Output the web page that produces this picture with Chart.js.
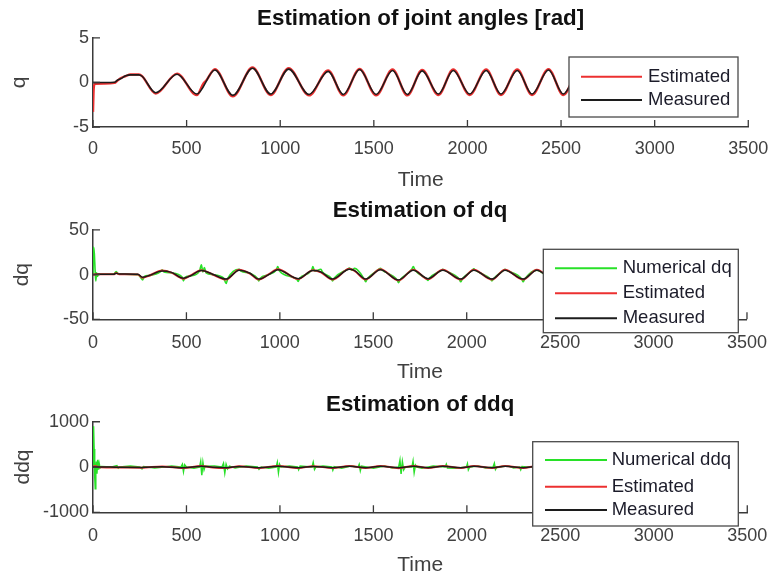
<!DOCTYPE html>
<html><head><meta charset="utf-8">
<script src="https://cdn.jsdelivr.net/npm/chart.js@4.4.1/dist/chart.umd.min.js"></script>
<style>
html,body{margin:0;padding:0;background:#fff;}
#wrap{position:relative;width:780px;height:581px;overflow:hidden;background:#fff;}
.pane{position:absolute;left:0;width:780px;}
</style></head><body>
<div id="wrap">
<div class="pane" style="top:0px;height:195px"><canvas id="c1" width="780" height="195"></canvas></div>
<div class="pane" style="top:195px;height:195px"><canvas id="c2" width="780" height="195"></canvas></div>
<div class="pane" style="top:390px;height:191px"><canvas id="c3" width="780" height="191"></canvas></div>
</div>
<script>
// ---------- data: [time, value] pairs ----------
const xTicks = [0, 500, 1000, 1500, 2000, 2500, 3000, 3500];

const qMeasured = [[0,0],[60,0],[115,0.02],[130,0.25],[150,0.45],[175,0.75],[200,0.85],[245,0.85],[262,0.7],[335,-1.15],[449,0.92],[554,-1.3],[651,1.4],[747,-1.45],[852,1.6],[949,-1.3],[1045,1.5],[1154,-1.35],[1256,1.25],[1337,-1.35],[1424,1.45],[1512,-1.35],[1600,1.35],[1679,-1.35],[1758,1.3],[1845,-1.3],[1924,1.35],[2012,-1.3],[2100,1.35],[2179,-1.3],[2266,1.35],[2345,-1.3],[2433,1.4],[2512,-1.3],[2598,1.35],[2680,-1.3],[2765,1.35],[2848,-1.3],[2932,1.35],[3015,-1.3],[3098,1.35],[3180,-1.3],[3262,1.35],[3345,-1.0],[3430,-1.0]];
const qEstimated = [[0,-3.3],[4,-0.6],[10,-0.15],[60,-0.12],[115,-0.05],[130,0.2],[150,0.5],[175,0.72],[200,0.9],[245,0.9],[262,0.72],[335,-1.25],[449,1.0],[554,-1.42],[590,-0.1],[606,0.25],[651,1.5],[747,-1.55],[852,1.68],[949,-1.4],[1045,1.6],[1154,-1.45],[1256,1.35],[1337,-1.45],[1424,1.52],[1512,-1.45],[1600,1.45],[1679,-1.45],[1758,1.4],[1845,-1.4],[1924,1.45],[2012,-1.4],[2100,1.45],[2179,-1.4],[2266,1.45],[2345,-1.4],[2433,1.5],[2512,-1.4],[2598,1.45],[2680,-1.4],[2765,1.45],[2848,-1.4],[2932,1.45],[3015,-1.4],[3098,1.45],[3180,-1.4],[3262,1.45],[3345,-1.05],[3430,-1.0]];

const dqMeasured = [[0,0],[20,0.5],[110,0.5],[124,1.5],[140,0.8],[240,0.5],[265,-3],[300,-1],[370,4],[420,2.5],[484,-4],[520,-1.5],[580,4.5],[640,0.5],[712,-5],[782,5],[840,1.5],[887,-5],[940,0],[989,5.5],[1098,-4.5],[1177,4.5],[1220,3],[1282,-5],[1372,6],[1400,4.5],[1459,-5],[1538,5.5],[1635,-6],[1714,5],[1793,-4.5],[1872,5],[1968,-5],[2038,5],[2135,-5],[2205,5],[2302,-5],[2375,5],[2465,-5],[2540,5],[2632,-5],[2708,5],[2798,-5],[2875,5],[2965,-5],[3042,5],[3132,-5],[3210,5],[3300,-4],[3380,0],[3430,0.5]];
const dqEstimated = [[0,0],[20,0.3],[110,0.3],[124,1.8],[140,0.5],[240,0.2],[265,-3.5],[300,-1.2],[370,4.5],[420,2.2],[484,-4.5],[520,-1.2],[580,5],[640,0.2],[712,-5.5],[782,5.5],[840,1.2],[887,-5.5],[940,0.3],[989,6],[1098,-5],[1177,5],[1220,2.6],[1282,-5.5],[1372,6.5],[1400,4.2],[1459,-5.5],[1538,6],[1635,-6.5],[1714,5.5],[1793,-5],[1872,5.5],[1968,-5.5],[2038,5.5],[2135,-5.5],[2205,5.5],[2302,-5.5],[2375,5.5],[2465,-5.5],[2540,5.5],[2632,-5.5],[2708,5.5],[2798,-5.5],[2875,5.5],[2965,-5.5],[3042,5.5],[3132,-5.5],[3210,5.5],[3300,-4.5],[3380,0],[3430,0.5]];
const dqNumerical = [[0,0],[3,31],[7,24],[11,6],[15,-7],[19,2],[24,-2],[30,1],[40,0.5],[110,0.5],[124,3.5],[135,1],[150,0.5],[240,0],[258,-4],[265,-6],[275,-2],[300,-1],[360,3],[370,5.5],[380,3],[420,2],[478,-3],[484,-7],[492,-3],[520,-1.5],[570,4],[580,11],[588,3],[596,8],[605,2],[640,0],[700,-4],[712,-10],[722,-4],[782,6],[792,4],[840,1.5],[880,-4],[887,-7],[895,-4],[940,0],[980,5],[989,9],[998,4],[1090,-5],[1098,-7.5],[1106,-4],[1170,5],[1177,9],[1186,4],[1220,6],[1228,3],[1275,-4],[1282,-7],[1290,-4],[1362,6],[1372,7.5],[1385,5],[1400,7],[1452,-5],[1459,-8],[1467,-5],[1530,6],[1538,7],[1548,5],[1628,-6],[1635,-9],[1643,-6],[1706,6],[1714,9],[1724,5],[1786,-5],[1793,-6.5],[1800,-4],[1865,5],[1872,6],[1880,5],[1960,-5],[1968,-8],[1976,-5],[2030,5],[2038,6.5],[2046,5],[2128,-5],[2135,-7],[2142,-5],[2198,5],[2205,6],[2212,5],[2295,-5],[2302,-8],[2310,-5],[2375,5],[2465,-6],[2540,6],[2632,-6],[2708,6],[2798,-6],[2875,6],[2965,-6],[3042,6],[3132,-6],[3210,6],[3300,-4],[3380,0],[3430,0.5]];

const ddqMeasured = [[0,0],[40,3],[130,-6],[260,-10],[370,8],[484,-15],[580,15],[640,-5],[712,-15],[782,12],[887,-15],[989,15],[1098,-15],[1177,12],[1282,-15],[1372,15],[1459,-15],[1538,15],[1635,-18],[1714,15],[1793,-15],[1872,15],[1968,-15],[2038,15],[2135,-15],[2205,15],[2302,-15],[2375,15],[2465,-15],[2540,15],[2632,-15],[2708,15],[2798,-15],[2875,15],[2965,-15],[3042,15],[3132,-15],[3210,15],[3300,-10],[3380,0],[3430,0]];
const ddqEstimated = [[0,0],[10,20],[40,-5],[130,-10],[260,-15],[370,12],[484,-20],[580,22],[640,-10],[712,-22],[782,18],[887,-22],[989,22],[1098,-22],[1177,18],[1282,-22],[1372,22],[1459,-22],[1538,22],[1635,-25],[1714,22],[1793,-22],[1872,22],[1968,-22],[2038,22],[2135,-22],[2205,22],[2302,-22],[2375,22],[2465,-22],[2540,22],[2632,-22],[2708,22],[2798,-22],[2875,22],[2965,-22],[3042,22],[3132,-22],[3210,22],[3300,-15],[3380,0],[3430,0]];
const ddqNumerical = [[0,0],[3,900],[6,400],[9,-200],[12,-480],[15,-100],[18,120],[21,-150],[25,160],[29,-60],[33,80],[38,-20],[45,10],[100,0],[128,30],[135,-25],[142,0],[200,20],[250,0],[262,-40],[270,10],[330,-20],[380,0],[420,20],[470,0],[478,60],[484,-100],[490,50],[500,0],[540,-25],[570,0],[576,120],[582,-180],[588,100],[594,-60],[600,20],[650,25],[690,0],[698,80],[705,-130],[712,60],[720,-40],[730,20],[760,-20],[820,25],[880,0],[888,-50],[900,0],[940,-25],[980,0],[986,100],[992,-120],[998,60],[1005,0],[1050,20],[1095,0],[1100,-60],[1108,20],[1172,0],[1178,100],[1185,-50],[1192,0],[1230,20],[1278,0],[1283,-70],[1290,10],[1330,-25],[1380,20],[1418,0],[1424,60],[1430,-80],[1436,20],[1500,-25],[1560,25],[1600,-20],[1635,0],[1642,150],[1648,-150],[1655,120],[1662,-60],[1670,0],[1706,0],[1712,130],[1718,-120],[1725,40],[1732,0],[1760,-25],[1820,20],[1884,0],[1890,60],[1896,-20],[1940,-25],[1998,0],[2003,70],[2008,-60],[2015,0],[2060,25],[2100,-20],[2140,0],[2147,80],[2153,-50],[2160,0],[2220,25],[2250,-20],[2282,0],[2288,-60],[2295,10],[2320,0],[2400,0],[2470,-60],[2476,40],[2482,0],[2550,60],[2556,-40],[2562,0],[2640,-60],[2646,20],[2700,60],[2706,-20],[2800,-50],[2880,50],[2970,-50],[3050,50],[3130,-50],[3210,50],[3300,-40],[3380,0],[3430,0]];

// ---------- drawing ----------
const FONT = "'Liberation Sans', Arial, Helvetica, sans-serif";
const RED = 'rgb(236,48,48)', BLACK = 'rgb(28,28,28)', GREEN = 'rgb(40,225,40)';
const xy = pairs => pairs.map(p => ({x: p[0], y: p[1]}));

const matlabAxes = {
  id: 'matlabAxes',
  afterDraw(chart, args, opts) {
    const ctx = chart.ctx, a = chart.chartArea;
    const xs = chart.scales.x, ys = chart.scales.y;
    ctx.save();
    // inward tick marks
    ctx.strokeStyle = '#3a3a3a'; ctx.lineWidth = 1.3;
    ctx.beginPath();
    xs.ticks.forEach(t => { const px = xs.getPixelForValue(t.value); ctx.moveTo(px, a.bottom); ctx.lineTo(px, a.bottom - 7); });
    ys.ticks.forEach(t => { const py = ys.getPixelForValue(t.value); ctx.moveTo(a.left, py); ctx.lineTo(a.left + 7, py); });
    ctx.stroke();
    // legend box
    const L = opts.legend;
    if (L) {
      const [x0, y0, x1, y1] = L.box;
      ctx.fillStyle = '#fff';
      ctx.fillRect(x0, y0, x1 - x0, y1 - y0);
      ctx.strokeStyle = '#4a4a4a'; ctx.lineWidth = 1.3;
      ctx.strokeRect(x0, y0, x1 - x0, y1 - y0);
      ctx.font = '18.5px ' + FONT;
      ctx.textBaseline = 'middle'; ctx.textAlign = 'left';
      chart.data.datasets.forEach((ds, i) => {
        const y = L.rows[i];
        ctx.strokeStyle = ds.borderColor; ctx.lineWidth = 2;
        ctx.beginPath(); ctx.moveTo(L.line[0], y); ctx.lineTo(L.line[1], y); ctx.stroke();
        ctx.fillStyle = '#1c1c2a';
        ctx.fillText(ds.label, L.textX, y);
      });
    }
    ctx.restore();
  }
};

function line(label, pairs, color, width, order, smooth) {
  return {label, data: xy(pairs), borderColor: color, backgroundColor: color, borderWidth: width,
    pointRadius: 0, fill: false, order, tension: smooth ? 0.4 : 0,
    cubicInterpolationMode: smooth ? 'monotone' : 'default'};
}

function makeChart(id, s) {
  return new Chart(document.getElementById(id), {
    type: 'line',
    data: {datasets: s.datasets},
    options: {
      responsive: false, animation: false, events: [],
      layout: {padding: {left: 0, right: 22.3, top: 0, bottom: 0}},
      plugins: {
        legend: {display: false}, tooltip: {enabled: false},
        title: {display: true, text: s.title, fullSize: false, color: '#111',
          font: {family: FONT, size: 22.3, weight: 'bold'}, padding: s.titlePad},
        matlabAxes: {legend: s.legend}
      },
      scales: {
        x: {type: 'linear', min: 0, max: 3500,
          afterBuildTicks: sc => { sc.ticks = xTicks.map(v => ({value: v})); },
          ticks: {autoSkip: false, maxRotation: 0, padding: s.xTickPad, color: '#404040',
            font: {family: FONT, size: 18}, callback: v => String(v)},
          grid: {display: true, drawOnChartArea: false, drawTicks: false},
          border: {display: true, color: '#3a3a3a', width: 1.5},
          title: {display: true, text: 'Time', color: '#404040', font: {family: FONT, size: 21},
            padding: {top: 0, bottom: s.timePad}},
          afterFit: sc => { sc.height = s.H - s.bottom; }
        },
        y: {type: 'linear', min: s.yTicks[0], max: s.yTicks[s.yTicks.length - 1],
          afterBuildTicks: sc => { sc.ticks = s.yTicks.map(v => ({value: v})); },
          ticks: {padding: 4, color: '#404040', font: {family: FONT, size: 18}, callback: v => String(v)},
          grid: {display: true, drawOnChartArea: false, drawTicks: false},
          border: {display: true, color: '#3a3a3a', width: 1.5},
          title: {display: true, text: s.yLabel, color: '#404040', font: {family: FONT, size: 21},
            padding: {top: s.yTitlePad, bottom: 0}},
          afterFit: sc => { sc.width = 93; }
        }
      }
    },
    plugins: [matlabAxes]
  });
}

makeChart('c1', {
  title: 'Estimation of joint angles [rad]', yLabel: 'q', yTicks: [-5, 0, 5],
  H: 195, bottom: 127, titlePad: {top: 5.6, bottom: 5.6}, xTickPad: 11.7, timePad: 2.4, yTitlePad: 7,
  legend: {box: [569, 57, 738, 117], rows: [76.7, 100], line: [581, 642], textX: 648},
  datasets: [
    line('Estimated', qEstimated, RED, 2.4, 2, true),
    line('Measured', qMeasured, BLACK, 1.6, 1, true)
  ]
});
makeChart('c2', {
  title: 'Estimation of dq', yLabel: 'dq', yTicks: [-50, 0, 50],
  H: 195, bottom: 124.3, titlePad: {top: 2.5, bottom: 5.7}, xTickPad: 13, timePad: 5.4, yTitlePad: 10,
  legend: {box: [543.3, 54.3, 738.3, 137.7], rows: [73.3, 98.3, 123.3], line: [555, 617], textX: 622.7},
  datasets: [
    line('Numerical dq', dqNumerical, GREEN, 1.6, 3, true),
    line('Estimated', dqEstimated, RED, 2, 2, true),
    line('Measured', dqMeasured, BLACK, 1.5, 1, true)
  ]
});
makeChart('c3', {
  title: 'Estimation of ddq', yLabel: 'ddq', yTicks: [-1000, 0, 1000],
  H: 191, bottom: 122.3, titlePad: {top: 1.6, bottom: 3.4}, xTickPad: 12.7, timePad: 3.4, yTitlePad: 10.8,
  legend: {box: [532.7, 51.7, 738.3, 136], rows: [70, 96.7, 120], line: [545, 607], textX: 611.7},
  datasets: [
    line('Numerical ddq', ddqNumerical, GREEN, 1.5, 3, false),
    line('Estimated', ddqEstimated, RED, 2, 2, true),
    line('Measured', ddqMeasured, BLACK, 1.5, 1, true)
  ]
});
</script></body></html>
